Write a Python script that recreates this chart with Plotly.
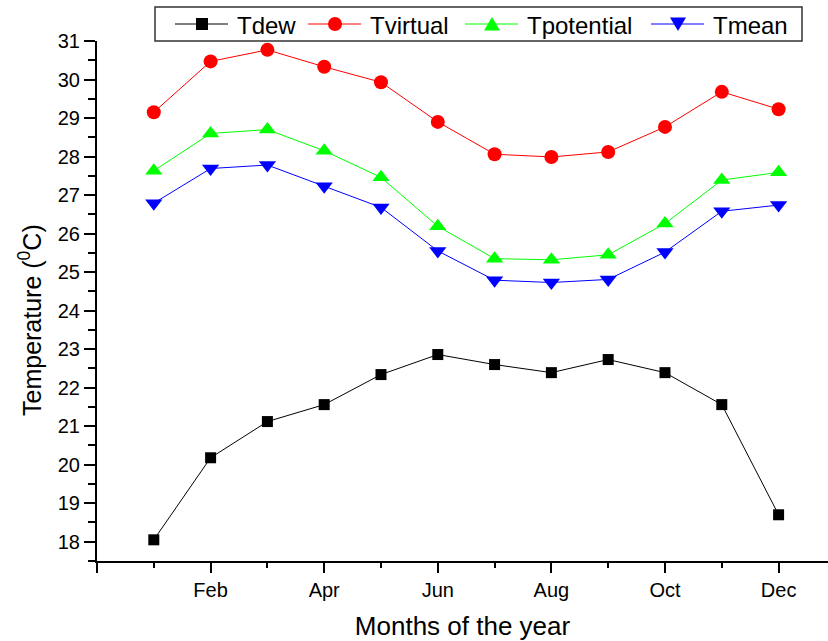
import plotly.graph_objects as go

months = ["Jan", "Feb", "Mar", "Apr", "May", "Jun",
          "Jul", "Aug", "Sep", "Oct", "Nov", "Dec"]
tdew = [18.05, 20.18, 21.12, 21.56, 22.34, 22.86, 22.60, 22.39, 22.73, 22.39, 21.56, 18.70]
tvirtual = [29.15, 30.47, 30.77, 30.33, 29.93, 28.90, 28.06, 27.99, 28.12, 28.77, 29.68, 29.23]
tpotential = [27.63, 28.60, 28.70, 28.15, 27.46, 26.19, 25.35, 25.32, 25.45, 26.26, 27.39, 27.59]
tmean = [26.79, 27.69, 27.78, 27.23, 26.68, 25.55, 24.79, 24.73, 24.81, 25.52, 26.58, 26.74]

month_num = list(range(1, len(months) + 1))
label_pos = [0] + month_num[1::2]
label_text = [""] + months[1::2]

series = [
    ("Tdew", tdew, "#000000", "square", 11),
    ("Tvirtual", tvirtual, "#ff0000", "circle", 14),
    ("Tpotential", tpotential, "#00ff00", "triangle-up", 15),
    ("Tmean", tmean, "#0000ff", "triangle-down", 15),
]

font = "Liberation Sans, Arial, sans-serif"
W, H = 828, 641
ML, MR, MT, MB = 97, 0, 41, 80
plot_w = W - ML - MR
plot_h = H - MT - MB


def px(x):
    """Page pixel column -> paper x."""
    return (x - ML) / plot_w


def py(y):
    """Page pixel row -> paper y."""
    return (H - MB - y) / plot_h


fig = go.Figure()
for name, vals, color, symbol, size in series:
    fig.add_trace(go.Scatter(
        x=month_num, y=vals, name=name, mode="lines+markers",
        line=dict(color=color, width=1),
        marker=dict(symbol=symbol, size=size, color=color,
                    line=dict(width=0)),
        showlegend=False,
    ))

# Boxed key above the plot: line-marker-line sample followed by the name
shapes = [dict(type="rect", xref="paper", yref="paper",
               x0=px(155), x1=px(802), y0=py(41), y1=py(7),
               line=dict(color="#333333", width=1.5), fillcolor="white")]
annotations = []
key_x = [202, 335, 492, 678]
key_y = 24
for (name, _, color, symbol, _), cx in zip(series, key_x):
    shapes.append(dict(type="line", xref="paper", yref="paper",
                       x0=px(cx - 27), x1=px(cx + 26), y0=py(key_y), y1=py(key_y),
                       line=dict(color=color, width=1)))
    if symbol == "square":
        h = 6
        shapes.append(dict(type="rect", xref="paper", yref="paper",
                           x0=px(cx - h), x1=px(cx + h), y0=py(key_y + h), y1=py(key_y - h),
                           line=dict(width=0), fillcolor=color))
    elif symbol == "circle":
        r = 7
        shapes.append(dict(type="circle", xref="paper", yref="paper",
                           x0=px(cx - r), x1=px(cx + r), y0=py(key_y + r), y1=py(key_y - r),
                           line=dict(width=0), fillcolor=color))
    else:
        s = 1 if symbol == "triangle-up" else -1
        pts = [(cx - 8, key_y + 6.5 * s), (cx + 8, key_y + 6.5 * s), (cx, key_y - 7 * s)]
        path = "M " + " L ".join(f"{px(a)},{py(b)}" for a, b in pts) + " Z"
        shapes.append(dict(type="path", xref="paper", yref="paper", path=path,
                           line=dict(width=0), fillcolor=color))
    annotations.append(dict(text=name, xref="paper", yref="paper",
                            x=px(cx + 33), y=py(key_y + 1), xanchor="left", yanchor="middle",
                            showarrow=False, font=dict(size=24, family=font, color="black")))

annotations.append(dict(
    text="Temperature (<sup>0</sup>C)", textangle=-90,
    xref="paper", yref="paper",
    x=px(30), y=py(320),
    xanchor="center", yanchor="middle", showarrow=False,
    font=dict(size=25, family=font, color="black"),
))

fig.update_layout(
    width=W, height=H,
    margin=dict(l=ML, r=MR, t=MT, b=MB, autoexpand=False),
    paper_bgcolor="white", plot_bgcolor="white",
    font=dict(family=font, color="black", size=20),
    showlegend=False,
    xaxis=dict(
        range=[0, 12.87], showgrid=False, zeroline=False,
        showline=True, linecolor="black", linewidth=2,
        tickmode="array", tickvals=label_pos, ticktext=label_text,
        ticks="outside", ticklen=10, tickwidth=2, tickcolor="black",
        minor=dict(tickmode="linear", tick0=0, dtick=1, ticks="outside",
                   ticklen=5, tickwidth=2, tickcolor="black", showgrid=False),
        tickfont=dict(size=20),
        title=dict(text="Months of the year", font=dict(size=26), standoff=17),
    ),
    yaxis=dict(
        range=[17.5, 31], showgrid=False, zeroline=False,
        showline=True, linecolor="black", linewidth=2,
        tick0=18, dtick=1,
        ticks="outside", ticklen=11, tickwidth=2, tickcolor="black",
        minor=dict(tick0=17.5, dtick=0.5, ticks="outside",
                   ticklen=7, tickwidth=2, tickcolor="black", showgrid=False),
        tickfont=dict(size=20),
    ),
    shapes=shapes,
    annotations=annotations,
)

fig.write_html("out.html")
